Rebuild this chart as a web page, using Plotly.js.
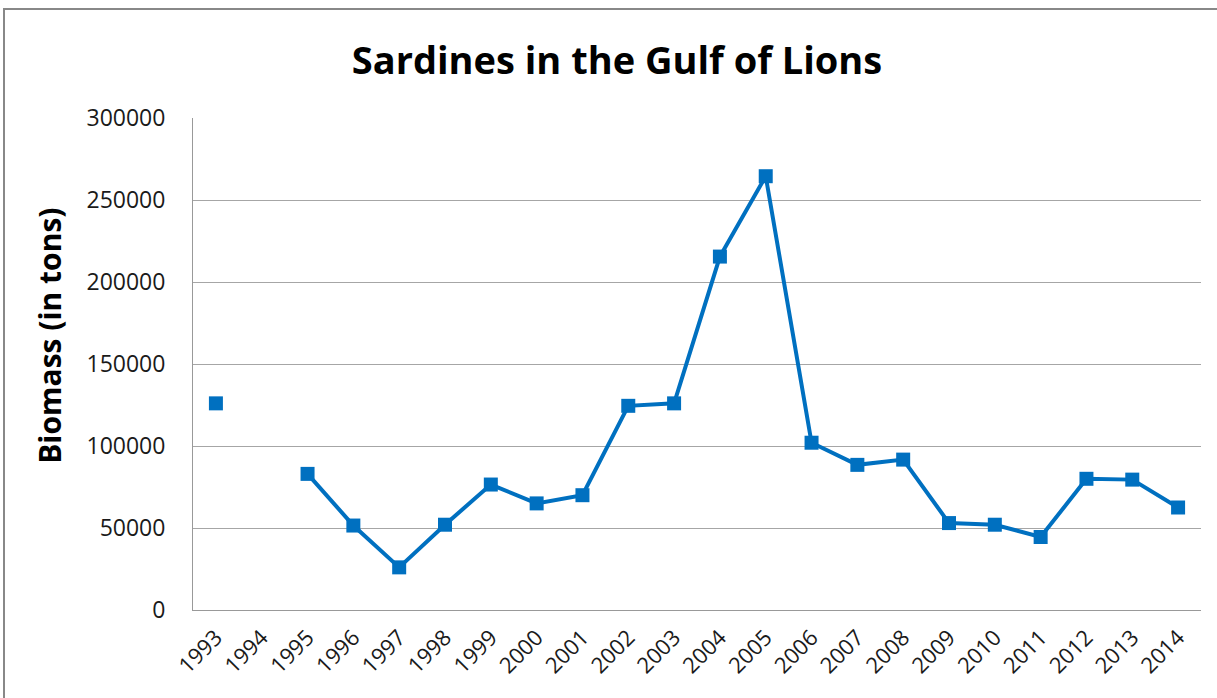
<!DOCTYPE html>
<html>
<head>
<meta charset="utf-8">
<script src="https://cdn.plot.ly/plotly-3.0.1.min.js"></script>
<style>
  html, body { margin: 0; padding: 0; overflow: hidden; background: #fff; }
  #frame { position: absolute; left: 3px; top: 8px; width: 1300px; height: 800px; border: 2px solid #888; }
  #chart { position: absolute; left: 0; top: 0; width: 1217px; height: 698px; }
</style>
</head>
<body>
<div id="frame"></div>
<div id="chart"></div>
<script>
let years = ["1993","1994","1995","1996","1997","1998","1999","2000","2001","2002","2003",
             "2004","2005","2006","2007","2008","2009","2010","2011","2012","2013","2014"];
let biomass = [126000, null, 83000, 51500, 26000, 52000, 76500, 65000, 70000, 124500, 126000,
               215500, 264500, 102000, 88500, 91700, 53000, 52000, 44500, 80000, 79500, 62500];
let yTicks = [0, 50000, 100000, 150000, 200000, 250000, 300000];

let fontFam = "'Open Sans', sans-serif";

let data = [{
  x: years,
  y: biomass,
  type: "scatter",
  mode: "lines+markers",
  connectgaps: false,
  line: {color: "#0070C0", width: 4},
  marker: {symbol: "square", size: 14, color: "#0070C0"},
  hoverinfo: "x+y"
}];

let layout = {
  width: 1217,
  height: 698,
  margin: {l: 193, r: 16, t: 118, b: 88},
  paper_bgcolor: "rgba(0,0,0,0)",
  plot_bgcolor: "rgba(0,0,0,0)",
  showlegend: false,
  font: {family: fontFam, color: "#1a1a1a", size: 22},
  title: {
    text: "<b>Sardines in the Gulf of Lions</b>",
    font: {family: fontFam, size: 38, color: "#000"},
    xref: "container", x: 0.507, xanchor: "center",
    yref: "container", y: 0.913, yanchor: "middle"
  },
  xaxis: {
    type: "category",
    range: [-0.5, 21.5],
    tickangle: -45,
    showgrid: false,
    showline: true,
    linecolor: "#999",
    linewidth: 1,
    ticks: "",
    tickfont: {size: 22},
    ticklabelstandoff: 5
  },
  yaxis: {
    range: [0, 300000],
    tickvals: yTicks,
    ticktext: yTicks.map(String),
    showgrid: true,
    gridcolor: "#a6a6a6",
    gridwidth: 1,
    showline: true,
    linecolor: "#999",
    linewidth: 1,
    zeroline: false,
    ticks: "",
    tickfont: {size: 23},
    ticklabelstandoff: 22
  },
  // y title sits a bit above the plot centre in the original, so place it by hand
  annotations: [{
    text: "<b>Biomass (in tons)</b>",
    textangle: -90,
    font: {size: 30, color: "#000"},
    xref: "paper", x: -0.142, xanchor: "center",
    yref: "paper", y: 0.557, yanchor: "middle",
    showarrow: false
  }]
};

Plotly.newPlot("chart", data, layout, {displayModeBar: false, staticPlot: true});
</script>
</body>
</html>
